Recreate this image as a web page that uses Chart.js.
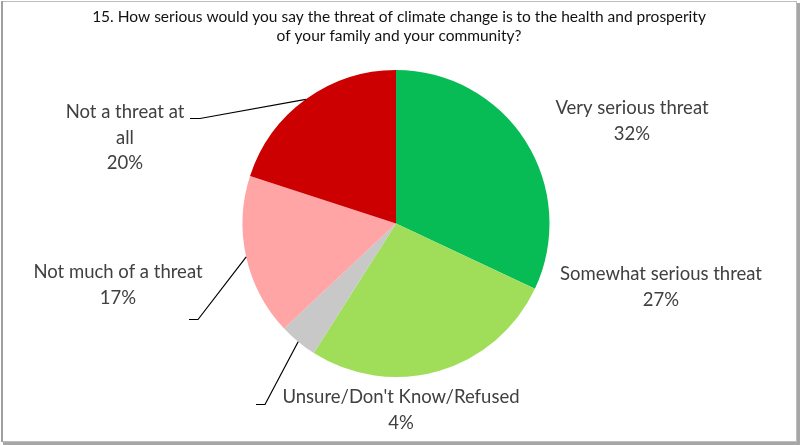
<!DOCTYPE html>
<html>
<head>
<meta charset="utf-8">
<script src="https://cdn.jsdelivr.net/npm/chart.js@4.4.0/dist/chart.umd.min.js"></script>
<style>
  html, body { margin: 0; padding: 0; background: #fff; }
  #wrap { width: 800px; height: 445px; position: relative; }
</style>
</head>
<body>
<div id="wrap"><canvas id="c" width="800" height="445"></canvas></div>
<script>
// ---- data ----
const categories = ["Very serious threat", "Somewhat serious threat", "Unsure/Don't Know/Refused", "Not much of a threat", "Not a threat at all"];
const values = [32, 27, 4, 17, 20];
const colors = ["#07BC55", "#A0DE5A", "#C8C8C8", "#FFA5A5", "#CC0000"];
const titleLines = ["15. How serious would you say the threat of climate change is to the health and prosperity", "of your family and your community?"];
// label text lines (wrapped as in the reference)
const labelLines = [
  ["Very serious threat"],
  ["Somewhat serious threat"],
  ["Unsure/Don't Know/Refused"],
  ["Not much of a threat"],
  ["Not a threat at", "all"]
];

// ---- layout of data labels (offsets from pie centre) ----
const labelLayout = [
  { dx: 236, dy: -115, leader: false },
  { dx: 265, dy: 51, leader: false },
  { dx: 5, dy: 174, leader: true, elbow: { dx: -131, dy: 181 }, end: { dx: -140, dy: 181 } },
  { dx: -278, dy: 49, leader: true, elbow: { dx: -198, dy: 96 }, end: { dx: -207, dy: 96 } },
  { dx: -271, dy: -111, leader: true, elbow: { dx: -196, dy: -105 }, end: { dx: -206, dy: -105 } }
];

const FONT = "Lato, 'Open Sans', 'Liberation Sans', sans-serif";

const framePlugin = {
  id: 'frame',
  beforeDraw(chart) {
    const ctx = chart.ctx;
    ctx.save();
    ctx.fillStyle = '#fff';
    ctx.fillRect(0, 0, chart.width, chart.height);
    // shadow
    ctx.fillStyle = '#A6A6A6';
    ctx.fillRect(797, 3, 3, 442);
    ctx.fillRect(3, 442, 797, 3);
    ctx.strokeStyle = '#BDBDBD';
    ctx.lineWidth = 1;
    ctx.strokeRect(1.5, 1.5, 795, 440);
    ctx.fillStyle = '#A0A0A0';
    ctx.fillRect(1, 1, 2, 441);
    // title
    ctx.fillStyle = '#111';
    ctx.font = '15.5px ' + FONT;
    ctx.textAlign = 'center';
    ctx.textBaseline = 'middle';
    titleLines.forEach((t, k) => ctx.fillText(t, 399, 17 + k * 19));
    ctx.restore();
  }
};

const labelPlugin = {
  id: 'pieLabels',
  afterDatasetsDraw(chart) {
    const ctx = chart.ctx;
    const meta = chart.getDatasetMeta(0);
    const total = values.reduce((a, b) => a + b, 0);
    ctx.save();
    meta.data.forEach((arc, i) => {
      const cx = arc.x, cy = arc.y;
      const mid = (arc.startAngle + arc.endAngle) / 2;
      const L = labelLayout[i];
      if (L.leader) {
        const sx = cx + Math.cos(mid) * arc.outerRadius;
        const sy = cy + Math.sin(mid) * arc.outerRadius;
        ctx.strokeStyle = '#000';
        ctx.lineWidth = 1.2;
        ctx.beginPath();
        ctx.moveTo(sx, sy);
        ctx.lineTo(cx + L.elbow.dx, cy + L.elbow.dy);
        ctx.lineTo(cx + L.end.dx, cy + L.end.dy);
        ctx.stroke();
      }
      const lines = labelLines[i].concat([Math.round(values[i] / total * 100) + '%']);
      ctx.fillStyle = '#404040';
      ctx.font = '18.5px ' + FONT;
      ctx.textAlign = 'center';
      ctx.textBaseline = 'middle';
      lines.forEach((t, k) => {
        ctx.fillText(t, cx + L.dx, cy + L.dy + k * 25.5);
      });
    });
    ctx.restore();
  }
};

new Chart(document.getElementById('c'), {
  type: 'pie',
  data: {
    labels: categories,
    datasets: [{
      data: values,
      backgroundColor: colors,
      borderWidth: 0,
      hoverOffset: 0
    }]
  },
  options: {
    responsive: false,
    animation: false,
    events: [],
    layout: { padding: { top: 70, bottom: 68, left: 242, right: 250 } },
    plugins: {
      legend: { display: false },
      tooltip: { enabled: false },
      title: { display: false }
    }
  },
  plugins: [framePlugin, labelPlugin]
});
</script>
</body>
</html>
